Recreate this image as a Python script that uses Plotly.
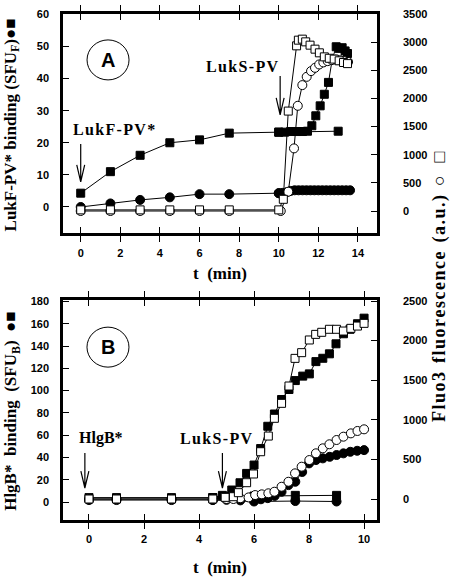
import plotly.graph_objects as go

# ---------------- Panel A data ----------------
A_fsq1_t = [0, 1.5, 3, 4.5, 6, 7.5, 10, 13]
A_fsq1_v = [4.3, 11, 16.1, 20, 20.9, 23, 23.3, 23.6]
A_fsq2_t = [10.0, 10.3, 10.6, 10.9, 11.2, 11.45, 11.67, 11.87, 12.09, 12.3, 12.51, 12.7, 12.9, 13.05, 13.2, 13.35, 13.47]
A_fsq2_v = [23.3, 23.3, 23.5, 23.5, 23.5, 23.6, 25.3, 28.4, 31.5, 35.1, 38.8, 46, 49.9, 49.4, 49.6, 48.6, 47.8]
A_fci1_t = [0, 1.5, 3, 4.5, 6, 7.5, 10]
A_fci1_v = [0, 1.1, 2.2, 3.0, 4.0, 4.0, 4.3]
A_fci2_t = [10.0, 10.2, 10.4, 10.6, 10.8, 11.0, 11.2, 11.4, 11.6, 11.8, 12.0, 12.2, 12.4, 12.6, 12.8, 13.0, 13.2, 13.4, 13.6]
A_fci2_v = [4.3, 4.4, 4.6, 5.0, 5.2, 5.2, 5.2, 5.2, 5.2, 5.2, 5.2, 5.2, 5.2, 5.2, 5.2, 5.2, 5.2, 5.2, 5.2]
A_osq_t = [0, 1.5, 3, 4.5, 6, 7.5, 10.0, 10.23, 10.48, 10.9, 10.99, 11.19, 11.36, 11.58, 11.83, 12.05, 12.3, 12.55, 12.8, 13.05, 13.27, 13.47]
A_osq_v = [20, 20, 20, 20, 20, 20, 20, 208, 1776, 2936, 3037, 3055, 3007, 2948, 2877, 2812, 2740, 2715, 2700, 2670, 2640, 2620]
A_oci_t = [0, 1.5, 3, 4.5, 6, 7.5, 10.1, 10.48, 10.77, 10.96, 11.19, 11.41, 11.63, 11.83, 12.04, 12.25, 12.47, 12.68, 12.9, 13.1, 13.3, 13.5]
A_oci_v = [0, 0, 0, 0, 0, 0, 0, 343, 1113, 1870, 2238, 2385, 2487, 2545, 2605, 2641, 2664, 2682, 2690, 2680, 2665, 2650]

# ---------------- Panel B data ----------------
B_fsq_ctrl_t = [0, 1, 3, 4.5, 6, 7.5, 9]
B_fsq_ctrl_v = [4, 4, 4, 4, 5.4, 6, 6]
B_fci_ctrl_t = [0, 1, 3, 4.5, 6, 7.5, 9]
B_fci_ctrl_v = [1.8, 1.8, 1.8, 1.8, 0.5, 0.9, 0.5]
B_fsq_t = [4.5, 4.85, 5.19, 5.49, 5.73, 6.0, 6.24, 6.5, 6.74, 7.0, 7.27, 7.5, 7.77, 8.01, 8.25, 8.5, 8.74, 8.98, 9.25, 9.49, 9.76, 10.0]
B_fsq_v = [4, 6, 10.8, 17.3, 25.7, 33.2, 48, 68, 79, 92, 101, 109, 113, 115, 126, 129, 133, 142, 151, 155, 160, 165]
B_fci_t = [4.5, 5.0, 5.5, 6.0, 6.25, 6.5, 6.75, 7.0, 7.25, 7.5, 7.75, 8.0, 8.25, 8.5, 8.75, 9.0, 9.25, 9.5, 9.75, 10.0]
B_fci_v = [2, 2, 1.5, 1.8, 2.5, 3.5, 5.5, 9.2, 15.2, 18.2, 27, 34.7, 37.7, 39.2, 40.6, 42.2, 43.7, 45.1, 46, 46.6]
B_osq_t = [0, 1, 3, 4.5, 4.95, 5.25, 5.43, 5.73, 5.98, 6.24, 6.52, 6.74, 7.0, 7.27, 7.49, 7.73, 8.01, 8.24, 8.46, 8.74, 9.0, 9.25, 9.52, 9.76, 10.0]
B_osq_v = [0, 0, 0, 0, 21, 29, 80, 206, 316, 597, 795, 1019, 1208, 1427, 1776, 1848, 2008, 2079, 2105, 2143, 2143, 2121, 2155, 2184, 2218]
B_oci_t = [0, 1, 3, 4.5, 5.0, 5.25, 5.5, 5.8, 6.04, 6.28, 6.52, 6.74, 7.0, 7.25, 7.49, 7.73, 8.01, 8.25, 8.5, 8.74, 9.0, 9.25, 9.52, 9.76, 10.0]
B_oci_v = [0, 0, 0, 0, 0, 0, 10, 20, 50, 59, 72, 92, 155, 218, 324, 408, 492, 577, 640, 691, 745, 787, 829, 859, 880]

# tick values
A_xticks = [0, 2, 4, 6, 8, 10, 12, 14]
A_yticks = [0, 10, 20, 30, 40, 50, 60]
A_y2ticks = [0, 500, 1000, 1500, 2000, 2500, 3000, 3500]
B_xticks = [0, 2, 4, 6, 8, 10]
B_yticks = [0, 20, 40, 60, 80, 100, 120, 140, 160, 180]
B_y2ticks = [0, 500, 1000, 1500, 2000, 2500]

SERIF = "Liberation Serif, DejaVu Serif, DejaVu Sans"
SANS = "Liberation Sans"
BLK = "black"
HS = "\u200a"  # hair space for letter spacing
EN = "\u2002"
TH = "\u2009"
VS = "\uFE0E"  # text presentation selector

def spaced(s):
    return HS.join(list(s))

fig = go.Figure()

def add(t, v, xa, ya, symbol, filled, size=8):
    fig.add_trace(go.Scatter(
        x=t, y=v, xaxis=xa, yaxis=ya, mode="lines+markers",
        line=dict(color=BLK, width=1),
        marker=dict(symbol=symbol, size=size,
                    color=BLK if filled else "white",
                    line=dict(color=BLK, width=1)),
        showlegend=False, cliponaxis=False, hoverinfo="skip"))

# Panel A
add(A_oci_t, A_oci_v, "x", "y2", "circle", False, 9)
add(A_fci1_t, A_fci1_v, "x", "y", "circle", True, 9)
add(A_fci2_t, A_fci2_v, "x", "y", "circle", True, 9)
add(A_fsq1_t, A_fsq1_v, "x", "y", "square", True)
add(A_fsq2_t, A_fsq2_v, "x", "y", "square", True)
add(A_osq_t, A_osq_v, "x", "y2", "square", False)

# Panel B
add(B_fci_ctrl_t, B_fci_ctrl_v, "x2", "y3", "circle", True, 9)
add(B_fsq_ctrl_t, B_fsq_ctrl_v, "x2", "y3", "square", True)
add(B_oci_t, B_oci_v, "x2", "y4", "circle", False, 9)
add(B_fci_t, B_fci_v, "x2", "y3", "circle", True, 9)
add(B_fsq_t, B_fsq_v, "x2", "y3", "square", True)
add(B_osq_t, B_osq_v, "x2", "y4", "square", False)

tickfont = dict(family=SANS, size=11, color=BLK, weight="bold")
common = dict(showgrid=False, zeroline=False, showline=True, linecolor=BLK,
              linewidth=2.5, ticks="inside", ticklen=6, tickwidth=1,
              tickcolor=BLK, tickfont=tickfont)

fig.update_layout(
    width=450, height=577,
    margin=dict(l=63, r=73, t=14, b=57, autoexpand=False),
    paper_bgcolor="white", plot_bgcolor="white",
    xaxis=dict(domain=[0, 1], anchor="y", range=[-0.894, 14.96],
               tickvals=A_xticks, mirror="allticks", ticklabelstandoff=8, **common),
    yaxis=dict(domain=[0.5672, 1], anchor="x", range=[-8.1, 60.1],
               tickvals=A_yticks, ticklabelstandoff=9, **common),
    yaxis2=dict(overlaying="y", side="right", anchor="x", range=[-391, 3502],
                tickvals=A_y2ticks, ticklabelstandoff=21, **common),
    xaxis2=dict(domain=[0, 1], anchor="y3", range=[-0.945, 10.47],
                tickvals=B_xticks, mirror="allticks", ticklabelstandoff=7, **common),
    yaxis3=dict(domain=[0, 0.4348], anchor="x2", range=[-16.1, 181.3],
                tickvals=B_yticks, ticklabelstandoff=9, **common),
    yaxis4=dict(overlaying="y3", side="right", anchor="x2", range=[-265, 2513],
                tickvals=B_y2ticks, ticklabelstandoff=21, **common),
)

tf = dict(family=SERIF, size=16, color=BLK)
C = dict(xanchor="center", yanchor="middle", showarrow=False)
ann = []
# in-plot labels
ann.append(dict(x=1.68, y=24.0, xref="x", yref="y", text="<b>" + spaced("LukF-PV*") + "</b>", font=tf, **C))
ann.append(dict(x=8.15, y=43.6, xref="x", yref="y", text="<b>" + spaced("LukS-PV") + "</b>", font=tf, **C))
ann.append(dict(x=0.44, y=57.4, xref="x2", yref="y3", text="<b>HlgB*</b>", font=tf, **C))
ann.append(dict(x=4.62, y=57.4, xref="x2", yref="y3", text="<b>" + spaced("LukS-PV") + "</b>", font=tf, **C))
ann.append(dict(x=1.38, y=45.8, xref="x", yref="y", text="<b>A</b>",
                font=dict(family=SANS, size=20, color=BLK), **C))
ann.append(dict(x=0.69, y=139, xref="x2", yref="y3", text="<b>B</b>",
                font=dict(family=SANS, size=20, color=BLK), **C))
# axis titles
ann.append(dict(x=0.5, y=0.488, xref="paper", yref="paper", text="<b>t  (min)</b>",
                font=dict(family=SERIF, size=17, color=BLK), **C))
ann.append(dict(x=0.5, y=-0.093, xref="paper", yref="paper", text="<b>t  (min)</b>",
                font=dict(family=SERIF, size=17, color=BLK), **C))
ann.append(dict(x=-0.162, y=0.780, xref="paper", yref="paper", textangle=-90,
                text="<b>LukF-PV* binding (SFU<sub>F</sub>)</b>\u25CF\u25A0" + VS,
                font=dict(family=SERIF, size=17, color=BLK), **C))
ann.append(dict(x=-0.162, y=0.214, xref="paper", yref="paper", textangle=-90,
                text="<b>HlgB*" + EN + "binding" + EN + "(SFU<sub>B</sub>)</b>" + EN + "\u25CF\u25A0" + VS,
                font=dict(family=SERIF, size=17, color=BLK), **C))
ann.append(dict(x=1.197, y=0.462, xref="paper", yref="paper", textangle=-90,
                text="<b>" + spaced("Fluo3") + EN + spaced("fluorescence") + EN + spaced("(a.u.)") + "</b>"
                     + EN + "\u25CB" + EN + TH + "\u25A1" + VS,
                font=dict(family=SERIF, size=18, color=BLK), **C))
fig.update_layout(annotations=ann)

# arrows (open V heads) and circled panel letters
def arrow(xr, yr, x, ytop, ybot, hw, hl):
    return dict(type="path", xref=xr, yref=yr,
                path=f"M {x},{ytop} L {x},{ybot} M {x-hw},{ybot+hl} L {x},{ybot} L {x+hw},{ybot+hl}",
                line=dict(color=BLK, width=1.2))

shapes = [
    arrow("x", "y", 0.0, 19.6, 7.8, 0.2, 5.3),
    arrow("x", "y", 10.07, 40.8, 28.7, 0.2, 5.3),
    arrow("x2", "y3", -0.15, 44, 12.6, 0.145, 15.2),
    arrow("x2", "y3", 4.85, 44, 12.6, 0.145, 15.2),
    dict(type="circle", xref="x", yref="y", xsizemode="pixel", ysizemode="pixel",
         xanchor=1.38, yanchor=45.8, x0=-21, x1=21, y0=-20, y1=20,
         line=dict(color=BLK, width=1)),
    dict(type="circle", xref="x2", yref="y3", xsizemode="pixel", ysizemode="pixel",
         xanchor=0.69, yanchor=139, x0=-21, x1=21, y0=-20, y1=20,
         line=dict(color=BLK, width=1)),
]
fig.update_layout(shapes=shapes)

fig.write_html("out.html", config={"displayModeBar": False},
               post_script="document.body.style.margin='0px';document.body.style.overflow='hidden';")
